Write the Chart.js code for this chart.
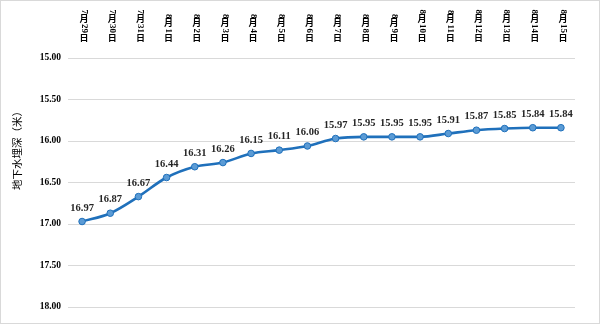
<!DOCTYPE html>
<html>
<head>
<meta charset="utf-8">
<script src="https://cdn.jsdelivr.net/npm/chart.js@4/dist/chart.umd.min.js"></script>
<style>
html,body{margin:0;padding:0;background:#fff;}
#wrap{position:relative;width:600px;height:324px;box-sizing:border-box;border:1px solid #d9d9d9;background:#fff;}
#c{position:absolute;left:0;top:0;}
</style>
</head>
<body>
<div id="wrap"><canvas id="c" width="598" height="322"></canvas></div>
<script>
const categories = ["7月29日","7月30日","7月31日","8月1日","8月2日","8月3日","8月4日","8月5日","8月6日","8月7日","8月8日","8月9日","8月10日","8月11日","8月12日","8月13日","8月14日","8月15日"];
const depthValues = [16.97,16.87,16.67,16.44,16.31,16.26,16.15,16.11,16.06,15.97,15.95,15.95,15.95,15.91,15.87,15.85,15.84,15.84];
const yTicks = [15.00,15.50,16.00,16.50,17.00,17.50,18.00];
const yTitle = "地下水埋深（米）";

const serif = "'Liberation Serif','Times New Roman','Noto Sans CJK SC',serif";

const customText = {
  id: 'customText',
  afterDraw(chart) {
    const ctx = chart.ctx;
    const xs = chart.scales.x;
    ctx.save();
    ctx.fillStyle = '#000';
    const fs = 9;
    ctx.font = 'bold ' + fs + 'px ' + serif;
    const bottom = 42;
    categories.forEach((lab, i) => {
      const x = xs.getPixelForTick(i) + 2;
      const segs = lab.match(/\d+|[^\d]/g);
      const lens = segs.map(s => /\d/.test(s) ? ctx.measureText(s).width + 0.5 : fs + 0.5);
      let y = bottom - lens.reduce((a, b) => a + b, 0);
      segs.forEach((s, k) => {
        if (/\d/.test(s)) {
          ctx.save();
          ctx.translate(x, y);
          ctx.rotate(Math.PI / 2);
          ctx.textAlign = 'left';
          ctx.textBaseline = 'middle';
          ctx.fillText(s, 0, 0);
          ctx.restore();
        } else {
          ctx.textAlign = 'center';
          ctx.textBaseline = 'middle';
          ctx.fillText(s, x, y + lens[k] / 2);
        }
        y += lens[k];
      });
    });
    ctx.restore();
    ctx.save();
    ctx.fillStyle = '#000';
    ctx.font = '10.5px "Noto Sans CJK SC", sans-serif';
    ctx.translate(16, 147);
    ctx.rotate(-Math.PI / 2);
    ctx.textAlign = 'center';
    ctx.textBaseline = 'middle';
    ctx.fillText(yTitle, 0, 0);
    ctx.restore();
  },
  afterDatasetsDraw(chart) {
    const ctx = chart.ctx;
    const meta = chart.getDatasetMeta(0);
    ctx.save();
    ctx.fillStyle = '#262626';
    ctx.font = 'bold 10.5px ' + serif;
    ctx.textAlign = 'center';
    ctx.textBaseline = 'middle';
    meta.data.forEach((pt, i) => {
      ctx.fillText(depthValues[i].toFixed(2), pt.x, pt.y - 13.5);
    });
    ctx.restore();
  }
};

new Chart(document.getElementById('c'), {
  type: 'line',
  data: {
    labels: categories,
    datasets: [{
      data: depthValues,
      borderColor: '#1f70bb',
      borderWidth: 2.6,
      pointBackgroundColor: '#5b9bd5',
      pointBorderColor: '#1f70bb',
      pointBorderWidth: 1,
      pointRadius: 3.3,
      cubicInterpolationMode: 'monotone',
      fill: false
    }]
  },
  options: {
    responsive: false,
    animation: false,
    events: [],
    layout: { padding: { left: 30, right: 24, top: 49, bottom: 16 } },
    plugins: { legend: { display: false }, tooltip: { enabled: false } },
    scales: {
      x: {
        position: 'top',
        offset: true,
        grid: { display: false },
        border: { display: false },
        ticks: { display: false }
      },
      y: {
        reverse: true,
        min: 15,
        max: 18,
        afterFit(s) { s.width = 37; },
        afterBuildTicks(s) { s.ticks = yTicks.map(v => ({ value: v })); },
        grid: { color: '#d9d9d9', drawTicks: false, lineWidth: 1 },
        border: { display: false },
        ticks: {
          padding: 7,
          color: '#000',
          font: { family: serif, size: 9.5, weight: 'bold' },
          callback: v => Number(v).toFixed(2)
        }
      }
    }
  },
  plugins: [customText]
});
</script>
</body>
</html>
